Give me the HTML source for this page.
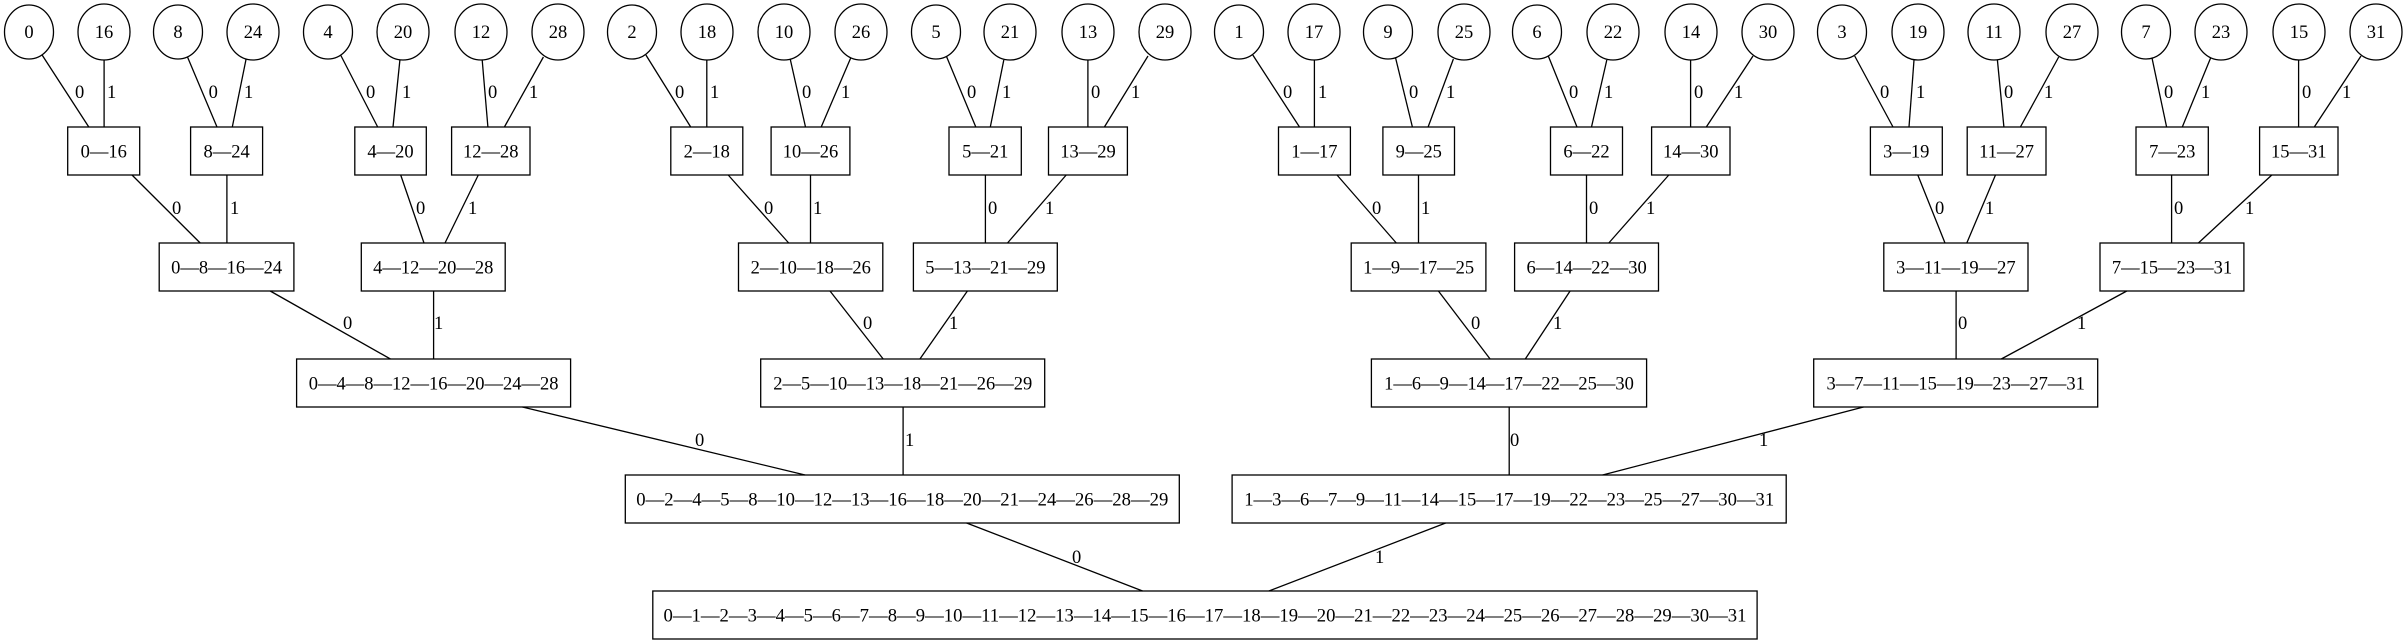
<!DOCTYPE html>
<html><head><meta charset="utf-8"><style>
html,body{margin:0;padding:0;background:#fff;}
svg{display:block;}
text{font-family:"Liberation Serif",serif;font-size:18.5px;fill:#000;}
.n{text-anchor:middle;}
</style></head><body>
<svg width="2408" height="644" viewBox="0 0 2408 644" xmlns="http://www.w3.org/2000/svg">
<g fill="none" stroke="#000" stroke-width="1.3">
<!-- leaves -->
<ellipse cx="29" cy="32" rx="24.5" ry="27"/>
<ellipse cx="104" cy="32" rx="26" ry="28"/>
<ellipse cx="178" cy="32" rx="24.5" ry="27"/>
<ellipse cx="253" cy="32" rx="26" ry="28"/>
<ellipse cx="328" cy="32" rx="24.5" ry="27"/>
<ellipse cx="403" cy="32" rx="26" ry="28"/>
<ellipse cx="481" cy="32" rx="26" ry="28"/>
<ellipse cx="558" cy="32" rx="26" ry="28"/>
<ellipse cx="632" cy="32" rx="24.5" ry="27"/>
<ellipse cx="707" cy="32" rx="26" ry="28"/>
<ellipse cx="784" cy="32" rx="26" ry="28"/>
<ellipse cx="861" cy="32" rx="26" ry="28"/>
<ellipse cx="936" cy="32" rx="24.5" ry="27"/>
<ellipse cx="1010" cy="32" rx="26" ry="28"/>
<ellipse cx="1088" cy="32" rx="26" ry="28"/>
<ellipse cx="1165" cy="32" rx="26" ry="28"/>
<ellipse cx="1239" cy="32" rx="24.5" ry="27"/>
<ellipse cx="1314" cy="32" rx="26" ry="28"/>
<ellipse cx="1388" cy="32" rx="24.5" ry="27"/>
<ellipse cx="1464" cy="32" rx="26" ry="28"/>
<ellipse cx="1537" cy="32" rx="24.5" ry="27"/>
<ellipse cx="1613" cy="32" rx="26" ry="28"/>
<ellipse cx="1691" cy="32" rx="26" ry="28"/>
<ellipse cx="1768" cy="32" rx="26" ry="28"/>
<ellipse cx="1842" cy="32" rx="24.5" ry="27"/>
<ellipse cx="1918" cy="32" rx="26" ry="28"/>
<ellipse cx="1994" cy="32" rx="26" ry="28"/>
<ellipse cx="2072" cy="32" rx="26" ry="28"/>
<ellipse cx="2146" cy="32" rx="24.5" ry="27"/>
<ellipse cx="2221" cy="32" rx="26" ry="28"/>
<ellipse cx="2299" cy="32" rx="26" ry="28"/>
<ellipse cx="2376" cy="32" rx="26" ry="28"/>
<!-- row 2 boxes -->
<rect x="67.7" y="127" width="72" height="48"/>
<rect x="190.6" y="127" width="72" height="48"/>
<rect x="354.8" y="127" width="71.5" height="48"/>
<rect x="451.6" y="127" width="78.4" height="48"/>
<rect x="670.8" y="127" width="72" height="48"/>
<rect x="771.1" y="127" width="78.8" height="48"/>
<rect x="949" y="127" width="72.3" height="48"/>
<rect x="1048.5" y="127" width="78.9" height="48"/>
<rect x="1278.5" y="127" width="71.9" height="48"/>
<rect x="1382.9" y="127" width="71.6" height="48"/>
<rect x="1550.5" y="127" width="72" height="48"/>
<rect x="1651.6" y="127" width="78.4" height="48"/>
<rect x="1870.4" y="127" width="71.9" height="48"/>
<rect x="1967.2" y="127" width="78.8" height="48"/>
<rect x="2136" y="127" width="72.3" height="48"/>
<rect x="2259.6" y="127" width="78.4" height="48"/>
<!-- row 3 -->
<rect x="159.2" y="243" width="134.7" height="48"/>
<rect x="361.3" y="243" width="143.9" height="48"/>
<rect x="738.5" y="243" width="144.3" height="48"/>
<rect x="913.4" y="243" width="143.9" height="48"/>
<rect x="1351.2" y="243" width="134.7" height="48"/>
<rect x="1514.6" y="243" width="143.9" height="48"/>
<rect x="1883.8" y="243" width="144.2" height="48"/>
<rect x="2100" y="243" width="143.9" height="48"/>
<!-- row 4 -->
<rect x="296.6" y="359" width="274" height="48"/>
<rect x="760.7" y="359" width="284" height="48"/>
<rect x="1371.4" y="359" width="275.2" height="48"/>
<rect x="1813.7" y="359" width="284" height="48"/>
<!-- row 5 -->
<rect x="625.3" y="475" width="554" height="48"/>
<rect x="1232.1" y="475" width="554.1" height="48"/>
<!-- row 6 -->
<rect x="652.8" y="591" width="1104.3" height="48"/>
<!-- edges row1->row2 -->
<line x1="42.1" y1="55" x2="88.8" y2="127"/>
<line x1="104.1" y1="60" x2="104.1" y2="127"/>
<line x1="187.5" y1="57" x2="217" y2="127"/>
<line x1="246.1" y1="59" x2="232.3" y2="127"/>
<line x1="340.6" y1="55" x2="377.7" y2="127"/>
<line x1="399.9" y1="60" x2="393" y2="127"/>
<line x1="482.2" y1="60" x2="487.9" y2="127"/>
<line x1="543.4" y1="57" x2="504.4" y2="127"/>
<line x1="645.9" y1="55" x2="690.7" y2="127"/>
<line x1="706.8" y1="60" x2="706.8" y2="127"/>
<line x1="790.2" y1="59" x2="805.5" y2="127"/>
<line x1="850.7" y1="58" x2="821.2" y2="127"/>
<line x1="946.3" y1="56" x2="975.8" y2="127"/>
<line x1="1003.8" y1="60" x2="990.3" y2="127"/>
<line x1="1087.9" y1="60" x2="1087.9" y2="127"/>
<line x1="1148" y1="56" x2="1104.4" y2="127"/>
<line x1="1252.8" y1="55" x2="1299.5" y2="127"/>
<line x1="1314.4" y1="60" x2="1314.4" y2="127"/>
<line x1="1395.6" y1="58" x2="1412.4" y2="127"/>
<line x1="1453.4" y1="59" x2="1428.1" y2="127"/>
<line x1="1548.3" y1="56" x2="1577" y2="127"/>
<line x1="1606.8" y1="60" x2="1591.5" y2="127"/>
<line x1="1690.6" y1="60" x2="1690.6" y2="127"/>
<line x1="1753" y1="56" x2="1706.3" y2="127"/>
<line x1="1854.7" y1="56" x2="1893" y2="127"/>
<line x1="1914" y1="60" x2="1909" y2="127"/>
<line x1="1997.4" y1="60" x2="2003.9" y2="127"/>
<line x1="2058.7" y1="57" x2="2020.4" y2="127"/>
<line x1="2152" y1="58" x2="2166.6" y2="127"/>
<line x1="2210.6" y1="58" x2="2182.3" y2="127"/>
<line x1="2298.6" y1="60" x2="2298.6" y2="127"/>
<line x1="2361" y1="56" x2="2314.3" y2="127"/>
<!-- row2->row3 -->
<line x1="132" y1="175" x2="200.2" y2="243"/>
<line x1="226.9" y1="175" x2="226.9" y2="243"/>
<line x1="400.7" y1="175" x2="424" y2="243"/>
<line x1="478.3" y1="175" x2="445" y2="243"/>
<line x1="728.2" y1="175" x2="788.7" y2="243"/>
<line x1="810.5" y1="175" x2="810.5" y2="243"/>
<line x1="985.4" y1="175" x2="985.4" y2="243"/>
<line x1="1066.2" y1="175" x2="1007.5" y2="243"/>
<line x1="1337" y1="175" x2="1396.3" y2="243"/>
<line x1="1418.5" y1="175" x2="1418.5" y2="243"/>
<line x1="1586.5" y1="175" x2="1586.5" y2="243"/>
<line x1="1668.8" y1="175" x2="1608.8" y2="243"/>
<line x1="1917.8" y1="175" x2="1945" y2="243"/>
<line x1="1995.5" y1="175" x2="1966.8" y2="243"/>
<line x1="2171.6" y1="175" x2="2171.6" y2="243"/>
<line x1="2271.8" y1="175" x2="2198.4" y2="243"/>
<!-- row3->row4 -->
<line x1="270.2" y1="291" x2="390.4" y2="359"/>
<line x1="433.6" y1="291" x2="433.6" y2="359"/>
<line x1="830" y1="291" x2="883.2" y2="359"/>
<line x1="967.4" y1="291" x2="919.9" y2="359"/>
<line x1="1438.4" y1="291" x2="1490.1" y2="359"/>
<line x1="1570.1" y1="291" x2="1525.3" y2="359"/>
<line x1="1956.1" y1="291" x2="1956.1" y2="359"/>
<line x1="2126.8" y1="291" x2="2001.3" y2="359"/>
<!-- row4->row5 -->
<line x1="522.4" y1="407" x2="805.1" y2="475"/>
<line x1="903.1" y1="407" x2="903.1" y2="475"/>
<line x1="1509.2" y1="407" x2="1509.2" y2="475"/>
<line x1="1863.5" y1="407" x2="1602.6" y2="475"/>
<!-- row5->row6 -->
<line x1="966.6" y1="523" x2="1142.6" y2="591"/>
<line x1="1445.7" y1="523" x2="1268.9" y2="591"/>
</g>
<g class="n">
<text x="29" y="38">0</text><text x="104" y="38">16</text><text x="178" y="38">8</text><text x="253" y="38">24</text>
<text x="328" y="38">4</text><text x="403" y="38">20</text><text x="481" y="38">12</text><text x="558" y="38">28</text>
<text x="632" y="38">2</text><text x="707" y="38">18</text><text x="784" y="38">10</text><text x="861" y="38">26</text>
<text x="936" y="38">5</text><text x="1010" y="38">21</text><text x="1088" y="38">13</text><text x="1165" y="38">29</text>
<text x="1239" y="38">1</text><text x="1314" y="38">17</text><text x="1388" y="38">9</text><text x="1464" y="38">25</text>
<text x="1537" y="38">6</text><text x="1613" y="38">22</text><text x="1691" y="38">14</text><text x="1768" y="38">30</text>
<text x="1842" y="38">3</text><text x="1918" y="38">19</text><text x="1994" y="38">11</text><text x="2072" y="38">27</text>
<text x="2146" y="38">7</text><text x="2221" y="38">23</text><text x="2299" y="38">15</text><text x="2376" y="38">31</text>

<text x="103.7" y="157.5">0—16</text><text x="226.6" y="157.5">8—24</text><text x="390.5" y="157.5">4—20</text><text x="490.8" y="157.5">12—28</text>
<text x="706.8" y="157.5">2—18</text><text x="810.5" y="157.5">10—26</text><text x="985.2" y="157.5">5—21</text><text x="1088" y="157.5">13—29</text>
<text x="1314.4" y="157.5">1—17</text><text x="1418.7" y="157.5">9—25</text><text x="1586.5" y="157.5">6—22</text><text x="1690.8" y="157.5">14—30</text>
<text x="1906.3" y="157.5">3—19</text><text x="2006.6" y="157.5">11—27</text><text x="2172.2" y="157.5">7—23</text><text x="2298.8" y="157.5">15—31</text>

<text x="226.6" y="273.5">0—8—16—24</text><text x="433.3" y="273.5">4—12—20—28</text>
<text x="810.7" y="273.5">2—10—18—26</text><text x="985.4" y="273.5">5—13—21—29</text>
<text x="1418.6" y="273.5">1—9—17—25</text><text x="1586.6" y="273.5">6—14—22—30</text>
<text x="1955.9" y="273.5">3—11—19—27</text><text x="2172" y="273.5">7—15—23—31</text>

<text x="433.6" y="389.5">0—4—8—12—16—20—24—28</text>
<text x="902.7" y="389.5">2—5—10—13—18—21—26—29</text>
<text x="1509" y="389.5">1—6—9—14—17—22—25—30</text>
<text x="1955.7" y="389.5">3—7—11—15—19—23—27—31</text>

<text x="902.3" y="505.5" textLength="532" lengthAdjust="spacingAndGlyphs">0—2—4—5—8—10—12—13—16—18—20—21—24—26—28—29</text>
<text x="1509.2" y="505.5" textLength="530" lengthAdjust="spacingAndGlyphs">1—3—6—7—9—11—14—15—17—19—22—23—25—27—30—31</text>
<text x="1205" y="621.5" textLength="1083" lengthAdjust="spacingAndGlyphs">0—1—2—3—4—5—6—7—8—9—10—11—12—13—14—15—16—17—18—19—20—21—22—23—24—25—26—27—28—29—30—31</text>
</g>
<g>
<text x="75" y="98">0</text><text x="107" y="98">1</text><text x="208.6" y="98">0</text><text x="244" y="98">1</text>
<text x="366" y="98">0</text><text x="402" y="98">1</text><text x="488" y="98">0</text><text x="529" y="98">1</text>
<text x="675" y="98">0</text><text x="710" y="98">1</text><text x="802" y="98">0</text><text x="841" y="98">1</text>
<text x="967" y="98">0</text><text x="1002" y="98">1</text><text x="1091" y="98">0</text><text x="1131" y="98">1</text>
<text x="1283" y="98">0</text><text x="1318" y="98">1</text><text x="1409" y="98">0</text><text x="1446" y="98">1</text>
<text x="1569" y="98">0</text><text x="1604" y="98">1</text><text x="1694" y="98">0</text><text x="1734" y="98">1</text>
<text x="1880" y="98">0</text><text x="1916" y="98">1</text><text x="2004" y="98">0</text><text x="2044" y="98">1</text>
<text x="2164" y="98">0</text><text x="2201" y="98">1</text><text x="2302" y="98">0</text><text x="2342" y="98">1</text>

<text x="172" y="214">0</text><text x="230" y="214">1</text><text x="416" y="214">0</text><text x="468" y="214">1</text>
<text x="764" y="214">0</text><text x="813" y="214">1</text><text x="988" y="214">0</text><text x="1045" y="214">1</text>
<text x="1372" y="214">0</text><text x="1421" y="214">1</text><text x="1589" y="214">0</text><text x="1646" y="214">1</text>
<text x="1935" y="214">0</text><text x="1985" y="214">1</text><text x="2174" y="214">0</text><text x="2245" y="214">1</text>

<text x="343" y="329">0</text><text x="434" y="329">1</text><text x="863" y="329">0</text><text x="949" y="329">1</text>
<text x="1471" y="329">0</text><text x="1553" y="329">1</text><text x="1958" y="329">0</text><text x="2077" y="329">1</text>

<text x="695" y="446">0</text><text x="905" y="446">1</text><text x="1510" y="446">0</text><text x="1759" y="446">1</text>
<text x="1072" y="563">0</text><text x="1375" y="563">1</text>
</g>
</svg>
</body></html>
